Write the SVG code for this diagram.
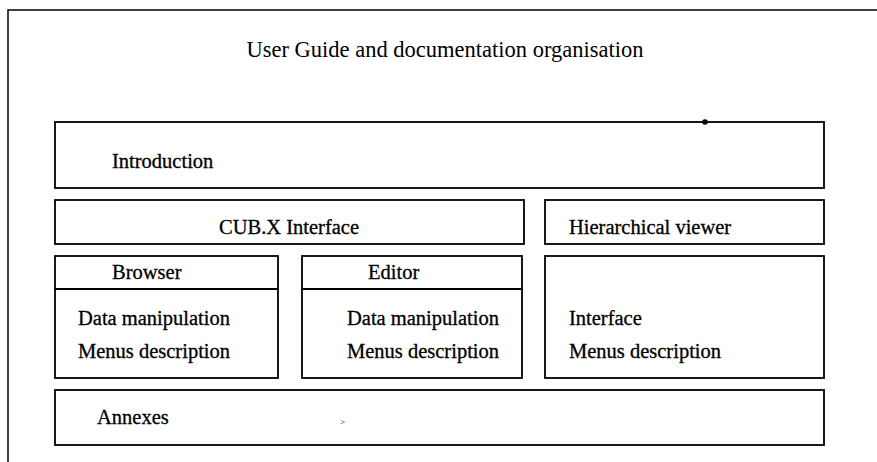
<svg xmlns="http://www.w3.org/2000/svg" width="877" height="462" viewBox="0 0 877 462">
<style>
  .box { fill: none; stroke: #000; stroke-width: 1.8; }
  .frame { fill: none; stroke: #000; stroke-width: 1.5; }
  .t { font-family: "Liberation Serif", "Times New Roman", serif; font-size: 20.5px; fill: #000; stroke: #000; stroke-width: 0.3; }
  .title { font-family: "Liberation Serif", "Times New Roman", serif; font-size: 22.5px; fill: #000; }
</style>
<rect width="877" height="462" fill="#fff"/>
<g id="frame">
  <polyline class="frame" points="8,462 8,10 877,10"/>
</g>
<g id="title">
  <text class="title" x="445" y="57" text-anchor="middle">User Guide and documentation organisation</text>
</g>
<g id="introduction">
  <rect class="box" x="55" y="122" width="769" height="66"/>
  <circle cx="705" cy="122" r="2.8" fill="#000"/>
  <text class="t" x="112" y="168">Introduction</text>
</g>
<g id="cubx-interface">
  <rect class="box" x="55" y="200" width="469" height="44"/>
  <text class="t" x="289" y="234" text-anchor="middle">CUB.X Interface</text>
</g>
<g id="hierarchical-viewer">
  <rect class="box" x="545" y="200" width="279" height="44"/>
  <text class="t" x="569" y="234">Hierarchical viewer</text>
</g>
<g id="browser">
  <rect class="box" x="55" y="256" width="223" height="122"/>
  <line class="box" x1="55" y1="289" x2="278" y2="289"/>
  <text class="t" x="112" y="279">Browser</text>
  <text class="t" x="78" y="325">Data manipulation</text>
  <text class="t" x="78" y="358">Menus description</text>
</g>
<g id="editor">
  <rect class="box" x="302" y="256" width="220" height="122"/>
  <line class="box" x1="302" y1="289" x2="522" y2="289"/>
  <text class="t" x="368" y="279">Editor</text>
  <text class="t" x="347" y="325">Data manipulation</text>
  <text class="t" x="347" y="358">Menus description</text>
</g>
<g id="viewer-content">
  <rect class="box" x="545" y="256" width="279" height="122"/>
  <text class="t" x="569" y="325">Interface</text>
  <text class="t" x="569" y="358">Menus description</text>
</g>
<g id="annexes">
  <rect class="box" x="55" y="390" width="769" height="55"/>
  <text class="t" x="97" y="424">Annexes</text>
  <text x="340" y="425" font-family="Liberation Serif, serif" font-size="9px" fill="#000">&gt;</text>
</g>
<g id="connectors"/>
</svg>
